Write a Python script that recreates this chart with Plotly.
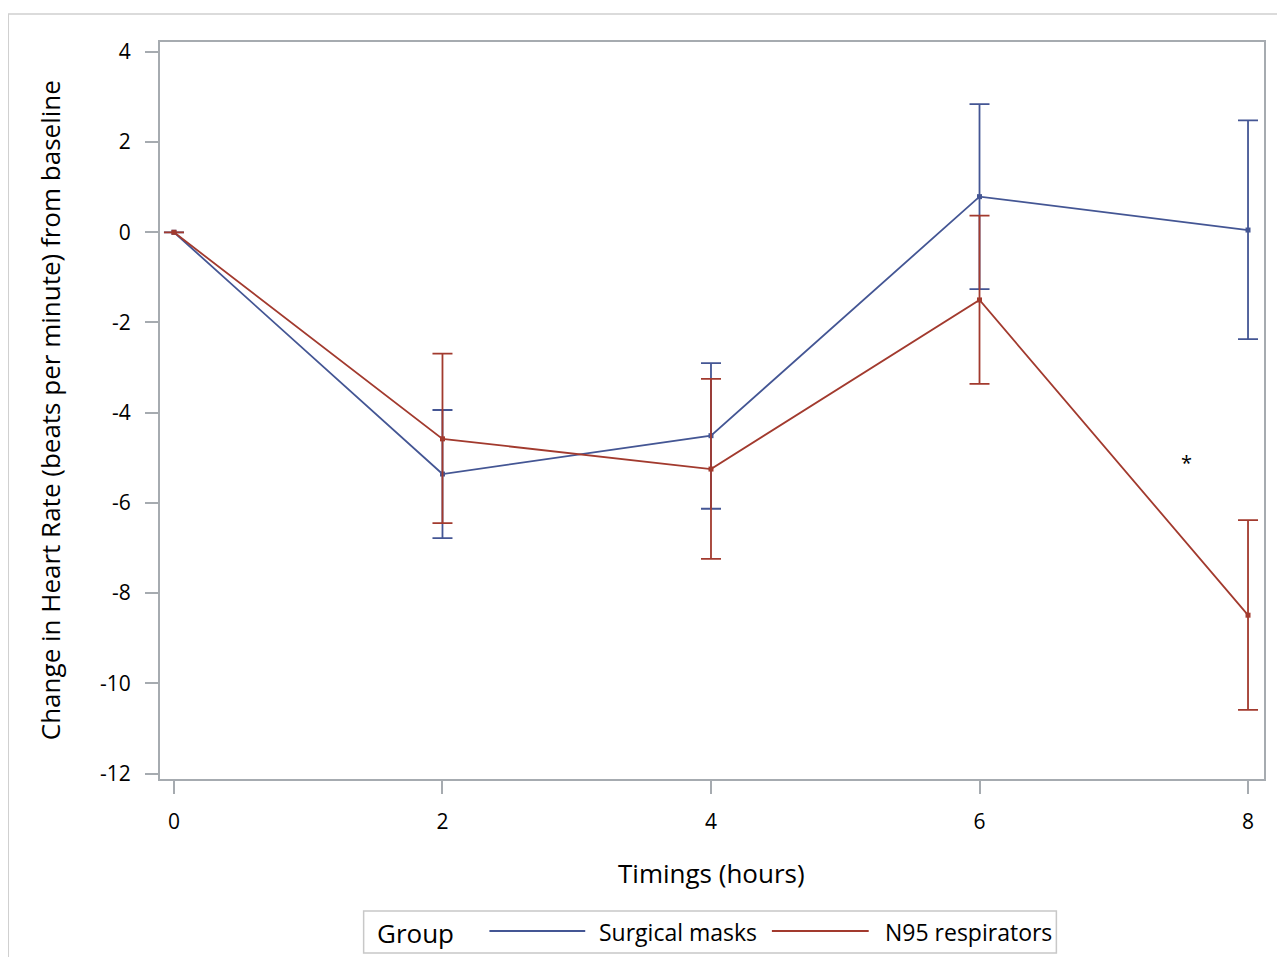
import plotly.graph_objects as go

# Data
timings = [0, 2, 4, 6, 8]
surgical_mean = [0.0, -5.36, -4.51, 0.79, 0.05]
surgical_lower = [0.0, -6.78, -6.13, -1.26, -2.37]
surgical_upper = [0.0, -3.94, -2.90, 2.84, 2.48]
n95_mean = [0.0, -4.58, -5.25, -1.50, -8.49]
n95_lower = [0.0, -6.45, -7.24, -3.36, -10.59]
n95_upper = [0.0, -2.69, -3.25, 0.37, -6.38]
x_ticks = [0, 2, 4, 6, 8]
y_ticks = [-12, -10, -8, -6, -4, -2, 0, 2, 4]
y_tick_labels = ["-12", "-10", "-8", "-6", "-4", "-2", "0", "2", "4"]
star_pos = (7.54, -5.11)

BLUE = "#445694"
RED = "#A23A2E"
AXIS = "#a6abb0"
FONT = "Open Sans"

OFF = 8  # page body margin
W, H = 1285 - 2 * OFF, 965 - 2 * OFF
L, R, T, B = 160, 1266, 42, 779  # plot area in screen pixels


def px(x):
    return (x - L) / (R - L)


def py(y):
    return (B - y) / (B - T)


fig = go.Figure()
for name, mean, lo, hi, col in [
    ("Surgical masks", surgical_mean, surgical_lower, surgical_upper, BLUE),
    ("N95 respirators", n95_mean, n95_lower, n95_upper, RED),
]:
    fig.add_trace(go.Scatter(
        x=timings, y=mean, name=name, mode="lines+markers",
        line=dict(color=col, width=1.8),
        marker=dict(color=col, size=5, symbol="square"),
        error_y=dict(type="data", symmetric=False,
                     array=[h - m for h, m in zip(hi, mean)],
                     arrayminus=[m - l for m, l in zip(mean, lo)],
                     color=col, thickness=1.8, width=10),
        showlegend=False,
    ))

fig.add_annotation(x=star_pos[0], y=star_pos[1], xref="x", yref="y", text="*",
                   showarrow=False, xanchor="center", yanchor="middle",
                   font=dict(family=FONT, size=20, color="black"))


def ann(x, y, text, size, xanchor="center", angle=0):
    fig.add_annotation(x=px(x), y=py(y), xref="paper", yref="paper", text=text,
                       xanchor=xanchor, yanchor="middle", textangle=angle,
                       showarrow=False, font=dict(family=FONT, size=size, color="black"))


# axis titles
ann(712, 873, "Timings (hours)", 26)
ann(50, 410, "Change in Heart Rate (beats per minute) from baseline", 26, angle=-90)

shapes = []
# outer border
shapes.append(dict(type="rect", xref="paper", yref="paper",
                   x0=px(8), x1=px(1300), y0=py(990), y1=py(14),
                   line=dict(color="#d0d0d0", width=1.5)))
# legend box
shapes.append(dict(type="rect", xref="paper", yref="paper",
                   x0=px(364), x1=px(1058), y0=py(953), y1=py(911),
                   line=dict(color="#c8c8c8", width=1.5)))
shapes.append(dict(type="line", xref="paper", yref="paper",
                   x0=px(490), x1=px(586), y0=py(931), y1=py(931),
                   line=dict(color=BLUE, width=1.8)))
shapes.append(dict(type="line", xref="paper", yref="paper",
                   x0=px(773), x1=px(870), y0=py(931), y1=py(931),
                   line=dict(color=RED, width=1.8)))
fig.update_layout(shapes=shapes)

ann(375, 933, "Group", 26, xanchor="left")
ann(598, 932, "Surgical masks", 23, xanchor="left")
ann(884, 932, "N95 respirators", 23, xanchor="left")

fig.update_xaxes(range=[-0.104, 8.119], tickvals=x_ticks,
                 showline=True, linecolor=AXIS, linewidth=2, mirror=True,
                 ticks="outside", ticklen=13, tickcolor=AXIS, tickwidth=2,
                 showgrid=False, zeroline=False, ticklabelstandoff=10,
                 tickfont=dict(family=FONT, size=21, color="black"))
fig.update_yaxes(range=[-12.122, 4.219], tickvals=y_ticks, ticktext=y_tick_labels,
                 showline=True, linecolor=AXIS, linewidth=2, mirror=True,
                 ticks="outside", ticklen=13, tickcolor=AXIS, tickwidth=2,
                 showgrid=False, zeroline=False, ticklabelstandoff=10,
                 tickfont=dict(family=FONT, size=21, color="black"))

fig.update_layout(width=W, height=H,
                  margin=dict(l=L - OFF, r=W - (R - OFF), t=T - OFF, b=H - (B - OFF)),
                  plot_bgcolor="white", paper_bgcolor="white", showlegend=False)

fig.write_html("out.html")
